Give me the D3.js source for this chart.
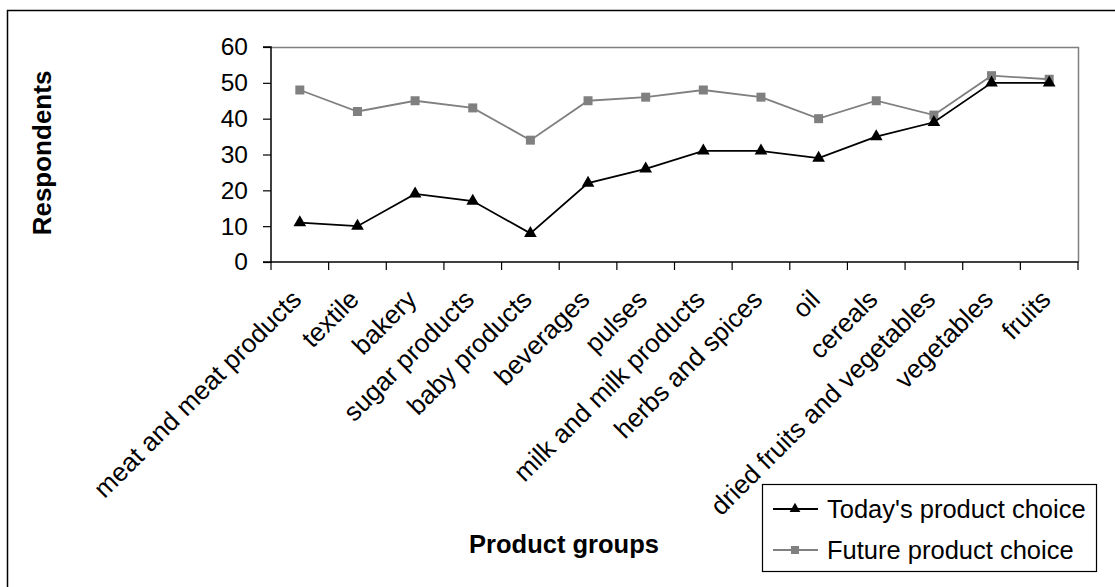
<!DOCTYPE html>
<html>
<head>
<meta charset="utf-8">
<script src="https://cdn.jsdelivr.net/npm/d3@7"></script>
<style>
  body { margin: 0; background: #fff; }
  svg { display: block; font-family: Arial, "Liberation Sans", sans-serif; }
</style>
</head>
<body>
<svg id="chart" width="1115" height="587"></svg>
<script>
const categories = ["meat and meat products", "textile", "bakery", "sugar products", "baby products",
  "beverages", "pulses", "milk and milk products", "herbs and spices", "oil", "cereals",
  "dried fruits and vegetables", "vegetables", "fruits"];
const todayValues = [11, 10, 19, 17, 8, 22, 26, 31, 31, 29, 35, 39, 50, 50];
const futureValues = [48, 42, 45, 43, 34, 45, 46, 48, 46, 40, 45, 41, 52, 51];
const yTicks = [0, 10, 20, 30, 40, 50, 60];
const seriesNames = ["Today's product choice", "Future product choice"];

const svg = d3.select("#chart");
const pLeft = 271, pRight = 1078, pTop = 47, pBottom = 262;

// outer frame
svg.append("rect").attr("x", 7.5).attr("y", 10.5).attr("width", 1200).attr("height", 700)
  .attr("fill", "none").attr("stroke", "#000").attr("stroke-width", 1.5);

const x = d3.scaleBand().domain(categories).range([pLeft, pRight]).paddingInner(0).paddingOuter(0);
const y = d3.scaleLinear().domain([0, 60]).range([pBottom, pTop]);

// plot area top/right border (gray)
svg.append("path")
  .attr("d", `M${pLeft},${pTop + 0.5}H${pRight + 0.5}V${pBottom}`)
  .attr("fill", "none").attr("stroke", "#808080").attr("stroke-width", 1.5);

// y axis
const yAxis = svg.append("g").attr("transform", `translate(${pLeft},0)`)
  .call(d3.axisLeft(y).tickValues(yTicks).tickSize(8).tickPadding(15).tickFormat(d3.format("d")));
yAxis.select(".domain").attr("stroke", "#000").attr("stroke-width", 1.5).attr("d", `M-8,${pTop}H0V${pBottom}H-8`);
yAxis.selectAll(".tick line").attr("stroke", "#000").attr("stroke-width", 1.2);
yAxis.selectAll(".tick text").attr("font-size", 24.5).attr("fill", "#000")
  .attr("font-family", "Arial, 'Liberation Sans', sans-serif");

// x axis: line and boundary ticks
const xg = svg.append("g");
xg.append("line").attr("x1", pLeft).attr("x2", pRight + 0.5).attr("y1", pBottom).attr("y2", pBottom)
  .attr("stroke", "#000").attr("stroke-width", 1.5);
const boundaries = categories.map(c => x(c)).concat([x(categories[categories.length - 1]) + x.bandwidth()]);
xg.selectAll("line.tk").data(boundaries).enter().append("line").attr("class", "tk")
  .attr("x1", d => d).attr("x2", d => d).attr("y1", pBottom).attr("y2", pBottom + 8)
  .attr("stroke", "#000").attr("stroke-width", 1.2);
xg.selectAll("text.cat").data(categories).enter().append("text").attr("class", "cat")
  .attr("transform", d => `translate(${x(d) + x.bandwidth() / 2 - 10},${pBottom + 26}) rotate(-45)`)
  .attr("text-anchor", "end").attr("dy", "0.71em").attr("font-size", 26).attr("fill", "#000")
  .text(d => d);

const cx = d => x(d) + x.bandwidth() / 2;
const line = d3.line().x(d => cx(d.c)).y(d => y(d.v));
const todayData = categories.map((c, i) => ({ c, v: todayValues[i] }));
const futureData = categories.map((c, i) => ({ c, v: futureValues[i] }));

// future series
svg.append("path").datum(futureData).attr("d", line).attr("fill", "none")
  .attr("stroke", "#808080").attr("stroke-width", 1.8);
svg.selectAll("rect.fm").data(futureData).enter().append("rect").attr("class", "fm")
  .attr("x", d => cx(d.c) - 4.5).attr("y", d => y(d.v) - 4.5).attr("width", 9).attr("height", 9)
  .attr("fill", "#808080");

// today series
const tri = d3.symbol().type(d3.symbolTriangle).size(70);
svg.append("path").datum(todayData).attr("d", line).attr("fill", "none")
  .attr("stroke", "#000").attr("stroke-width", 1.8);
svg.selectAll("path.tm").data(todayData).enter().append("path").attr("class", "tm")
  .attr("d", tri).attr("transform", d => `translate(${cx(d.c)},${y(d.v)})`).attr("fill", "#000");

// axis titles
svg.append("text").attr("transform", "translate(51,153) rotate(-90)")
  .attr("text-anchor", "middle").attr("font-size", 26).attr("font-weight", "bold").attr("fill", "#000")
  .text("Respondents");
svg.append("text").attr("x", 564).attr("y", 553)
  .attr("text-anchor", "middle").attr("font-size", 25.5).attr("font-weight", "bold").attr("fill", "#000")
  .text("Product groups");

// legend
const lg = svg.append("g");
lg.append("rect").attr("x", 762.5).attr("y", 484.5).attr("width", 334).attr("height", 87)
  .attr("fill", "#fff").attr("stroke", "#000").attr("stroke-width", 1.2);
const rows = [
  { name: seriesNames[0], color: "#000", marker: "tri", cy: 509 },
  { name: seriesNames[1], color: "#808080", marker: "sq", cy: 550 }
];
rows.forEach(r => {
  lg.append("line").attr("x1", 773).attr("x2", 818).attr("y1", r.cy).attr("y2", r.cy)
    .attr("stroke", r.color).attr("stroke-width", 1.8);
  if (r.marker === "tri") {
    lg.append("path").attr("d", d3.symbol().type(d3.symbolTriangle).size(50))
      .attr("transform", `translate(795,${r.cy})`).attr("fill", r.color);
  } else {
    lg.append("rect").attr("x", 791).attr("y", r.cy - 4).attr("width", 8).attr("height", 8).attr("fill", r.color);
  }
  lg.append("text").attr("x", 827).attr("y", r.cy).attr("dy", "0.36em")
    .attr("font-size", 25.5).attr("fill", "#000").text(r.name);
});
</script>
</body>
</html>
